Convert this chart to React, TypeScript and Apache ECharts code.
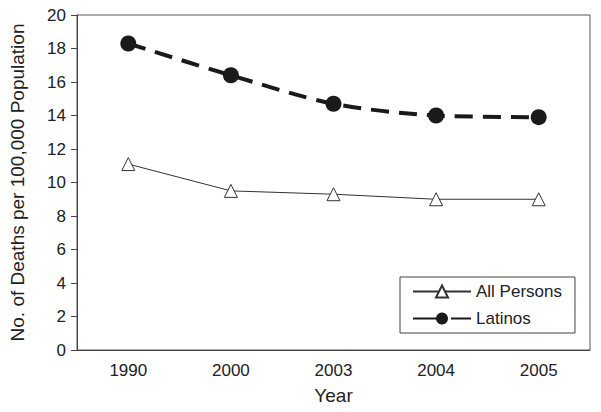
import React, { useEffect, useRef } from "react";
import * as echarts from "echarts";

const years = ["1990", "2000", "2003", "2004", "2005"];
const allPersons = [11.1, 9.5, 9.3, 9.0, 9.0];
const latinos = [18.3, 16.4, 14.7, 14.0, 13.9];

const FONT = "Liberation Sans, Arial, sans-serif";

export default function App() {
  const ref = useRef<HTMLDivElement>(null);
  useEffect(() => {
    const chart = echarts.init(ref.current!, null, { renderer: "svg" });
    chart.setOption({
      animation: false,
      backgroundColor: "#fff",
      textStyle: { fontFamily: FONT },
      grid: {
        left: 73,
        right: 11,
        top: 15,
        bottom: 62,
        show: true,
        borderColor: "#555",
        borderWidth: 1,
      },
      legend: {
        orient: "vertical",
        left: 400,
        top: 277,
        padding: [6, 13, 6, 12],
        itemGap: 10,
        itemWidth: 58,
        itemHeight: 15,
        borderColor: "#444",
        borderWidth: 1,
        textStyle: { fontSize: 17, color: "#222", fontFamily: FONT },
        data: [
          { name: "All Persons" },
          { name: "Latinos", lineStyle: { type: [34, 4, 20, 0] } },
        ],
      },
      xAxis: {
        type: "category",
        data: years,
        boundaryGap: true,
        name: "Year",
        nameLocation: "middle",
        nameGap: 36,
        nameTextStyle: { fontSize: 19, color: "#222", fontFamily: FONT },
        axisLine: { lineStyle: { color: "#444", width: 1 } },
        axisTick: { alignWithLabel: true, length: 6, lineStyle: { color: "#444" } },
        axisLabel: { fontSize: 17, color: "#222", margin: 12, fontFamily: FONT },
        splitLine: { show: false },
      },
      yAxis: {
        type: "value",
        min: 0,
        max: 20,
        interval: 2,
        name: "No. of Deaths per 100,000 Population",
        nameLocation: "middle",
        nameGap: 50,
        nameTextStyle: { fontSize: 19, color: "#222", fontFamily: FONT },
        axisLine: { show: true, lineStyle: { color: "#444", width: 1 } },
        axisTick: { show: true, length: 6, lineStyle: { color: "#444" } },
        axisLabel: { fontSize: 17, color: "#222", margin: 11, fontFamily: FONT },
        splitLine: { show: false },
      },
      series: [
        {
          name: "All Persons",
          type: "line",
          data: allPersons,
          symbol: "triangle",
          symbolSize: 13,
          lineStyle: { color: "#333", width: 1 },
          itemStyle: { color: "#fff", borderColor: "#333", borderWidth: 1 },
        },
        {
          name: "Latinos",
          type: "line",
          data: latinos,
          smooth: 0.3,
          symbol: "circle",
          symbolSize: 16,
          lineStyle: { color: "#1a1a1a", width: 4, type: [18, 10] },
          itemStyle: { color: "#1a1a1a", borderColor: "#1a1a1a", borderWidth: 0 },
        },
      ],
    });
    return () => chart.dispose();
  }, []);
  return <div ref={ref} style={{ width: 601, height: 412, position: "absolute", left: 0, top: 0 }} />;
}
